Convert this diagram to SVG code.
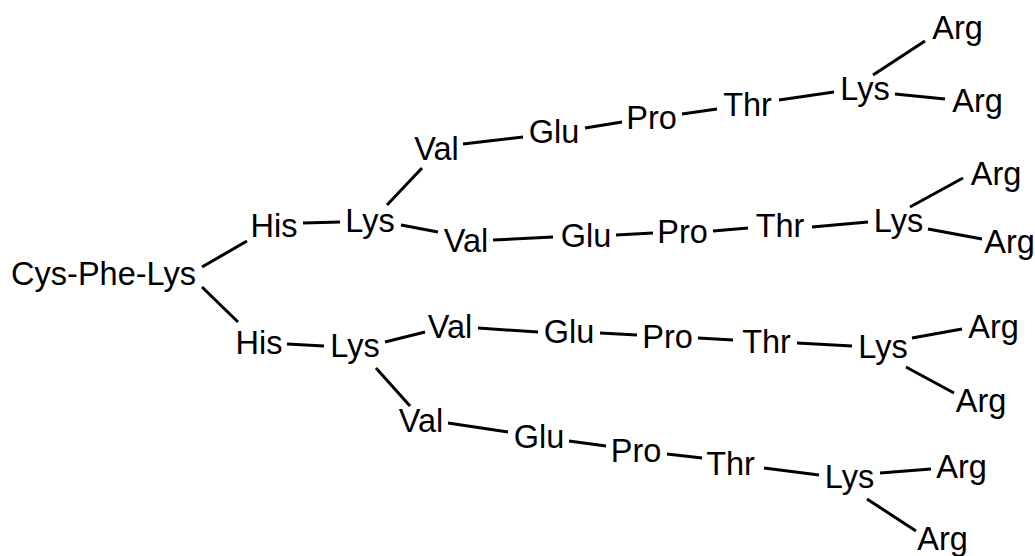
<svg xmlns="http://www.w3.org/2000/svg" width="1035" height="556" viewBox="0 0 1035 556">
<style>
text{font-family:"Liberation Sans",Arial,sans-serif;font-size:32.5px;fill:#000;text-anchor:middle}
line{stroke:#000;stroke-width:3;stroke-linecap:butt}
</style>
<rect width="1035" height="556" fill="#fff"/>
<g id="connectors">
<line x1="202" y1="267" x2="247" y2="241"/>
<line x1="202" y1="287" x2="238" y2="322"/>
<line x1="303" y1="223" x2="340" y2="222"/>
<line x1="287" y1="344" x2="324" y2="346"/>
<line x1="387" y1="205" x2="422" y2="168"/>
<line x1="401" y1="225" x2="438" y2="232"/>
<line x1="385" y1="342" x2="425" y2="332"/>
<line x1="376" y1="368" x2="410" y2="406"/>
<line x1="463" y1="144" x2="523" y2="137"/>
<line x1="585" y1="128" x2="622" y2="122"/>
<line x1="682" y1="114" x2="717" y2="109"/>
<line x1="779" y1="100" x2="834" y2="92"/>
<line x1="873" y1="75" x2="925" y2="41"/>
<line x1="895" y1="94" x2="945" y2="99"/>
<line x1="493" y1="240" x2="553" y2="237"/>
<line x1="616" y1="235" x2="653" y2="233"/>
<line x1="713" y1="231" x2="748" y2="228"/>
<line x1="812" y1="227" x2="868" y2="222"/>
<line x1="910" y1="207" x2="963" y2="178"/>
<line x1="928" y1="229" x2="982" y2="239"/>
<line x1="478" y1="328" x2="538" y2="332"/>
<line x1="600" y1="333" x2="637" y2="335"/>
<line x1="698" y1="338" x2="733" y2="340"/>
<line x1="797" y1="343" x2="852" y2="346"/>
<line x1="912" y1="338" x2="962" y2="329"/>
<line x1="906" y1="367" x2="954" y2="393"/>
<line x1="448" y1="423" x2="508" y2="432"/>
<line x1="569" y1="441" x2="606" y2="446"/>
<line x1="667" y1="454" x2="702" y2="458"/>
<line x1="764" y1="468" x2="819" y2="475"/>
<line x1="880" y1="473" x2="931" y2="469"/>
<line x1="867" y1="499" x2="916" y2="531"/>
</g>
<g id="n-core"><text x="103.5" y="285">Cys-Phe-Lys</text></g>
<g id="n-his1"><text x="274" y="237">His</text></g>
<g id="n-his2"><text x="259" y="354">His</text></g>
<g id="n-lys1"><text x="370" y="232">Lys</text></g>
<g id="n-lys2"><text x="355" y="357">Lys</text></g>
<g id="n-val-a"><text x="436.5" y="160">Val</text></g>
<g id="n-glu-a"><text x="554" y="143">Glu</text></g>
<g id="n-pro-a"><text x="651.5" y="129">Pro</text></g>
<g id="n-thr-a"><text x="747.5" y="116">Thr</text></g>
<g id="n-lys-a"><text x="865" y="100">Lys</text></g>
<g id="n-arg-a1"><text x="957.5" y="39">Arg</text></g>
<g id="n-arg-a2"><text x="977.5" y="112">Arg</text></g>
<g id="n-val-b"><text x="466" y="252">Val</text></g>
<g id="n-glu-b"><text x="586" y="247">Glu</text></g>
<g id="n-pro-b"><text x="682.5" y="243">Pro</text></g>
<g id="n-thr-b"><text x="780" y="237">Thr</text></g>
<g id="n-lys-b"><text x="898.5" y="232">Lys</text></g>
<g id="n-arg-b1"><text x="996" y="185">Arg</text></g>
<g id="n-arg-b2"><text x="1009.5" y="253">Arg</text></g>
<g id="n-val-c"><text x="450" y="338">Val</text></g>
<g id="n-glu-c"><text x="569" y="343">Glu</text></g>
<g id="n-pro-c"><text x="667.5" y="348">Pro</text></g>
<g id="n-thr-c"><text x="766.5" y="353">Thr</text></g>
<g id="n-lys-c"><text x="883" y="358">Lys</text></g>
<g id="n-arg-c1"><text x="993.5" y="338">Arg</text></g>
<g id="n-arg-c2"><text x="981" y="412">Arg</text></g>
<g id="n-val-d"><text x="421" y="432">Val</text></g>
<g id="n-glu-d"><text x="539" y="448">Glu</text></g>
<g id="n-pro-d"><text x="636" y="462">Pro</text></g>
<g id="n-thr-d"><text x="730.5" y="475">Thr</text></g>
<g id="n-lys-d"><text x="849.5" y="488">Lys</text></g>
<g id="n-arg-d1"><text x="961.5" y="478">Arg</text></g>
<g id="n-arg-d2"><text x="942.5" y="550">Arg</text></g>
</svg>
